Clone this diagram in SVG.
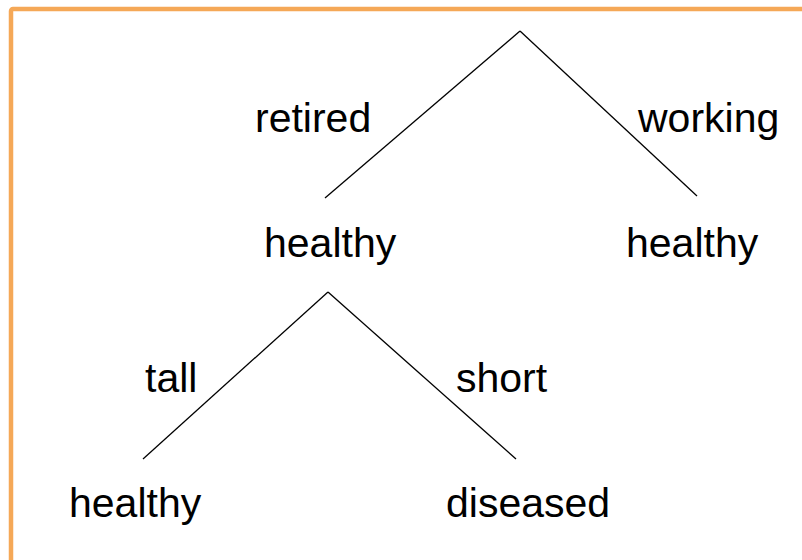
<svg xmlns="http://www.w3.org/2000/svg" width="802" height="560" viewBox="0 0 802 560">
<style>
.lbl{font-family:"Liberation Sans",Arial,sans-serif;font-size:41px;fill:#000}
.edge{stroke:#000;stroke-width:1.3;fill:none}
</style>
<rect x="0" y="0" width="802" height="560" fill="#fff"/>
<rect x="11" y="9" width="800" height="560" rx="2" fill="none" stroke="#F5A857" stroke-width="4.5"/>
<g id="connectors">
<line class="edge" x1="520" y1="31" x2="325" y2="198"/>
<line class="edge" x1="520" y1="31" x2="697" y2="196"/>
<line class="edge" x1="328" y1="292" x2="143" y2="459"/>
<line class="edge" x1="328" y1="292" x2="516" y2="459"/>
</g>
<g id="edge-label-retired"><text class="lbl" x="255" y="132">retired</text></g>
<g id="edge-label-working"><text class="lbl" x="638" y="132">working</text></g>
<g id="node-healthy-left"><text class="lbl" x="264" y="257">healthy</text></g>
<g id="node-healthy-right"><text class="lbl" x="626" y="257">healthy</text></g>
<g id="edge-label-tall"><text class="lbl" x="145" y="392">tall</text></g>
<g id="edge-label-short"><text class="lbl" x="456" y="392">short</text></g>
<g id="node-healthy-bottom"><text class="lbl" x="69" y="517">healthy</text></g>
<g id="node-diseased"><text class="lbl" x="446" y="517">diseased</text></g>
</svg>
